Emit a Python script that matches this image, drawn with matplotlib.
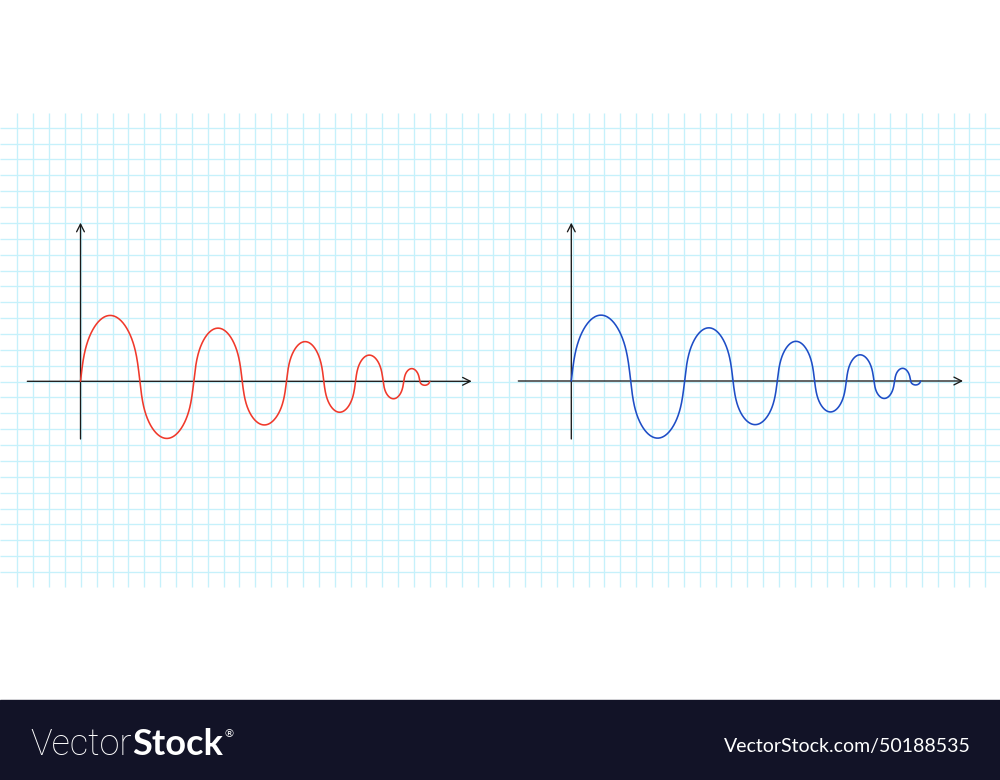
import numpy as np
import matplotlib
matplotlib.use("Agg")
import matplotlib.pyplot as plt

# ---- data (in grid-square units) ----
zero_crossings = [0.0, 3.74, 7.14, 10.19, 12.98, 15.33, 17.33, 19.07, 20.37, 21.38, 22.01]
lobe_amplitudes = [4.15, -3.6, 3.35, -2.75, 2.5, -1.95, 1.65, -1.1, 0.8, -0.25]
panel_colors = ["#f0392b", "#1e4dc6"]
banner_left = "Vector"
banner_left_bold = "Stock"
banner_right = "VectorStock.com/50188535"

W, H = 1000, 780
GRID = 15.87  # px per grid square

fig = plt.figure(figsize=(W / 100, H / 100), dpi=100)
fig.patch.set_facecolor("white")

# background "graph paper" in pixel coordinates
bg = fig.add_axes([0, 0, 1, 1])
bg.set_xlim(0, W)
bg.set_ylim(H, 0)
bg.axis("off")
grid_col = "#c6f1fb"
vx = 17.3 + GRID * np.arange(62)
hy = 127.7 + GRID * np.arange(29)
bg.vlines(vx, 112.7, 586.7, colors=grid_col, linewidth=0.95)
bg.hlines(hy, 0, W, colors=grid_col, linewidth=0.95)

# bottom banner
bg.add_patch(plt.Rectangle((0, 700), W, 80, color="#121327", zorder=3))


def px_to_fig(x, y):
    return x / W, 1 - y / H


def make_panel(origin_x, origin_y, x_left, x_right, y_top, y_bottom, color):
    l, b = px_to_fig(x_left, y_bottom)
    r, t = px_to_fig(x_right, y_top)
    ax = fig.add_axes([l, b, r - l, t - b])
    ax.set_xlim((x_left - origin_x) / GRID, (x_right - origin_x) / GRID)
    ax.set_ylim((origin_y - y_bottom) / GRID, (origin_y - y_top) / GRID)
    ax.patch.set_alpha(0)
    ax.axis("off")
    x0, x1 = ax.get_xlim()
    y0, y1 = ax.get_ylim()
    astyle = "->,head_length=0.55,head_width=0.28"
    ax.annotate("", xy=(x1, 0), xytext=(x0, 0),
                arrowprops=dict(arrowstyle=astyle, color="#1a1a1a", lw=0.95,
                                shrinkA=0, shrinkB=0), annotation_clip=False)
    ax.annotate("", xy=(0, y1), xytext=(0, y0),
                arrowprops=dict(arrowstyle=astyle, color="#1a1a1a", lw=0.95,
                                shrinkA=0, shrinkB=0), annotation_clip=False)
    eps = 0.03
    t = np.linspace(0, 1, 160)
    s = np.sin(np.pi * t)
    shape = s * (s ** 2 + eps) ** (-0.27) / (1 + eps) ** (-0.27)
    xs, ys = [], []
    for i, a in enumerate(lobe_amplitudes):
        za, zb = zero_crossings[i], zero_crossings[i + 1]
        xs.append(za + t * (zb - za))
        ys.append(a * shape)
    ax.plot(np.concatenate(xs), np.concatenate(ys), color=color, lw=1.15,
            solid_capstyle="round", clip_on=False, zorder=5)
    return ax


make_panel(80.5, 381.3, 27.3, 471.7, 222.7, 439.0, panel_colors[0])
make_panel(571.3, 381.0, 518.3, 963.0, 222.7, 439.0, panel_colors[1])

# banner text
t1 = bg.text(30, 755, banner_left, color="white", fontsize=26, fontfamily="Roboto",
             fontweight="light", fontstretch="condensed", ha="left", va="baseline", zorder=4)
fig.canvas.draw()
r = fig.canvas.get_renderer()
ext = t1.get_window_extent(r)
x_after = ext.x1 * W / fig.bbox.width
t2 = bg.text(x_after + 0.5, 755, banner_left_bold, color="white", fontsize=26,
             fontfamily="Lato", fontweight="bold", ha="left", va="baseline", zorder=4)
fig.canvas.draw()
ext2 = t2.get_window_extent(r)
x_after2 = ext2.x1 * W / fig.bbox.width
bg.text(x_after2 + 1, 737, "®", color="white", fontsize=8, fontfamily="DejaVu Sans",
        ha="left", va="baseline", zorder=4)
bg.text(971, 752.3, banner_right, color="white", fontsize=14, fontfamily="Lato",
        ha="right", va="baseline", zorder=4)

fig.savefig("out.png", dpi=100, facecolor="white")
